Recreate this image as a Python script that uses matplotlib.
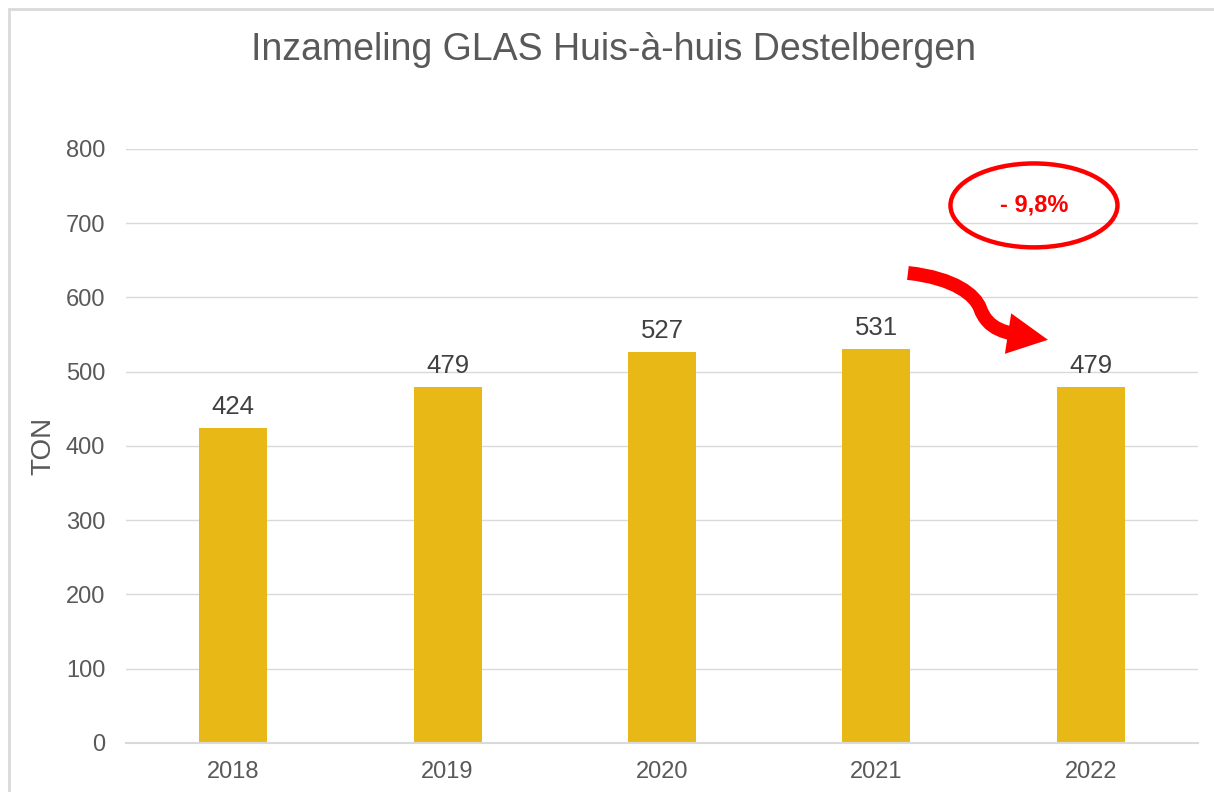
import matplotlib.pyplot as plt
from matplotlib.patches import Ellipse, FancyArrowPatch, Rectangle
from matplotlib.path import Path

plt.rcParams['font.family'] = ['Liberation Sans', 'DejaVu Sans']

years = ['2018', '2019', '2020', '2021', '2022']
tons = [424, 479, 527, 531, 479]
change_label = '- 9,8%'

bar_colour = '#E8B817'
text_colour = '#595959'
grid_colour = '#D9D9D9'

fig = plt.figure(figsize=(12.14, 7.92), dpi=100)
ax = fig.add_axes([0.1038, 0.0619, 0.883, 0.75])

x = range(len(years))
bars = ax.bar(x, tons, width=0.317, color=bar_colour, zorder=2)
for xi, v in zip(x, tons):
    ax.text(xi, v + 12, str(v), ha='center', va='bottom', fontsize=18.5, color='#404040')

ax.set_xlim(-0.5, len(years) - 0.5)
ax.set_ylim(0, 800)
ax.set_yticks(range(0, 801, 100))
ax.set_xticks(list(x))
ax.set_xticklabels(years)
ax.tick_params(length=0, labelsize=17, colors=text_colour)
ax.tick_params(axis='y', pad=15)
ax.tick_params(axis='x', pad=13)
ax.grid(axis='y', color=grid_colour, linewidth=1, zorder=0)
for s in ['top', 'right', 'left']:
    ax.spines[s].set_visible(False)
ax.spines['bottom'].set_color(grid_colour)
ax.spines['bottom'].set_linewidth(1.5)
ax.set_ylabel('TON', fontsize=20, color=text_colour, labelpad=7)

fig.text(0.505, 0.937, 'Inzameling GLAS Huis-à-huis Destelbergen', ha='center', va='center',
         fontsize=27, color=text_colour)

# outer chart frame
fig.patches.append(Rectangle((9 / 1214, -0.05), 1.1, 1 - 9 / 792 + 0.05, transform=fig.transFigure,
                             fill=False, edgecolor='#D9D9D9', linewidth=2))

# annotation: ellipse with percentage
ell = Ellipse((3.735, 724), 0.779, 113, fill=False, edgecolor='#FF0000', linewidth=3.2, zorder=5)
ax.add_patch(ell)
ax.text(3.735, 724, change_label, ha='center', va='center', fontsize=17, fontweight='bold',
        color='#FF0000', zorder=6)

# curved arrow
verts = [(3.147, 633), (3.367, 626), (3.460, 603), (3.483, 586),
         (3.521, 556), (3.600, 552), (3.800, 543)]
codes = [Path.MOVETO, Path.CURVE4, Path.CURVE4, Path.CURVE4, Path.CURVE4, Path.CURVE4, Path.CURVE4]
arrow = FancyArrowPatch(path=Path(verts, codes), arrowstyle='-|>,head_length=0.65,head_width=0.33',
                        mutation_scale=20, color='#FF0000', linewidth=10, joinstyle='miter',
                        capstyle='butt', zorder=5)
ax.add_patch(arrow)

fig.savefig('out.png', dpi=100)
